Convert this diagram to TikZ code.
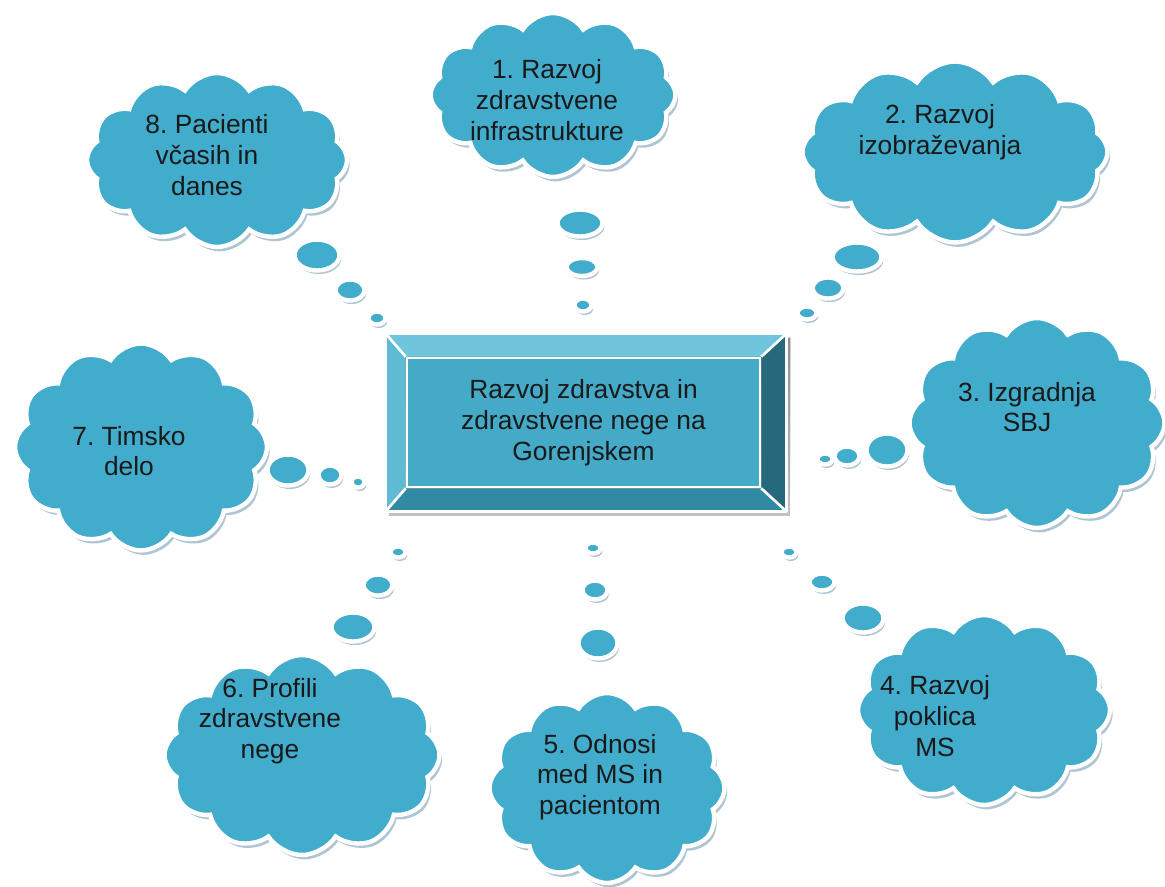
\documentclass[tikz,border=0pt]{standalone}
\usepackage{fontspec}
\setmainfont{Liberation Sans}
\usetikzlibrary{shapes.symbols,shapes.geometric,shadows,calc}
\frenchspacing

\definecolor{cloudblue}{RGB}{66,172,204}
\definecolor{boxblue}{RGB}{68,170,200}
\definecolor{bevlight}{RGB}{112,196,220}
\definecolor{bevleft}{RGB}{96,186,212}
\definecolor{bevdark}{RGB}{38,104,124}
\definecolor{bevbottom}{RGB}{48,138,164}
\definecolor{shade}{RGB}{110,150,175}
\definecolor{ink}{RGB}{25,25,25}

\tikzset{
  cloudbox/.style={cloud, cloud puffs=12, cloud puff arc=115, cloud ignores aspect,
    fill=cloudblue, draw=white, line width=2.5pt, inner sep=0pt,
    drop shadow={shadow xshift=1.5pt, shadow yshift=-2.5pt, fill=shade, opacity=0.55}},
  cloudtext/.style={align=center, text=ink, font=\fontsize{15}{17.5}\selectfont, inner sep=0pt},
  bubble/.style={ellipse, fill=cloudblue, draw=white, line width=2.5pt, inner sep=0pt,
    drop shadow={shadow xshift=1pt, shadow yshift=-2pt, fill=shade, opacity=0.55}},
  hubbox/.style={rectangle, fill=boxblue, draw=white, line width=1.5pt,
    minimum width=7.06cm, minimum height=2.58cm, align=center, text=ink,
    font=\fontsize{15}{17.5}\selectfont}
}

\begin{document}
\begin{tikzpicture}[x=0.02cm, y=-0.02cm]
\fill[white] (0,0) rectangle (1165,886);
\useasboundingbox (0,0) rectangle (1165,886);

% central box with bevel
\node[hubbox] (hub) at (583.5,422.5) {Razvoj zdravstva in\\zdravstvene nege na\\Gorenjskem};
\coordinate (oNW) at ($(hub.north west)+(-20,-23)$);
\coordinate (oNE) at ($(hub.north east)+(25,-23)$);
\coordinate (oSE) at ($(hub.south east)+(25,23)$);
\coordinate (oSW) at ($(hub.south west)+(-20,23)$);
\fill[shade, opacity=0.4] ($(oNW)+(3,4)$) rectangle ($(oSE)+(4,5)$);
\fill[bevlight] (oNW) -- (oNE) -- (hub.north east) -- (hub.north west) -- cycle;
\fill[bevdark] (oNE) -- (oSE) -- (hub.south east) -- (hub.north east) -- cycle;
\fill[bevbottom] (oSE) -- (oSW) -- (hub.south west) -- (hub.south east) -- cycle;
\fill[bevleft] (oSW) -- (oNW) -- (hub.north west) -- (hub.south west) -- cycle;
\draw[white, line width=2pt, line join=round] (oNW) -- (oNE) -- (oSE) -- (oSW) -- cycle;
\draw[white, line width=1.5pt] (oNW) -- (hub.north west) (oNE) -- (hub.north east)
  (oSE) -- (hub.south east) (oSW) -- (hub.south west);
\node[hubbox] at (hub) {Razvoj zdravstva in\\zdravstvene nege na\\Gorenjskem};

% clouds
\node[cloudbox, minimum width=4.9cm, minimum height=3.28cm] (c1) at (553,95) {};
\node[cloudtext] (t1) at (547,100) {1. Razvoj\\zdravstvene\\infrastrukture};

\node[cloudbox, minimum width=6.1cm, minimum height=3.62cm] (c2) at (955,152) {};
\node[cloudtext] (t2) at (940,132) {2. Razvoj\\izobraževanja};

\node[cloudbox, minimum width=5.1cm, minimum height=4.2cm] (c3) at (1037,423) {};
\node[cloudtext] (t3) at (1027,407) {3. Izgradnja\\SBJ};

\node[cloudbox, minimum width=5.04cm, minimum height=3.8cm] (c4) at (984,710) {};
\node[cloudtext] (t4) at (935,716) {4. Razvoj\\poklica\\MS};

\node[cloudbox, minimum width=4.7cm, minimum height=3.8cm] (c5) at (607,788) {};
\node[cloudtext] (t5) at (600,777) {5. Odnosi\\med MS in\\pacientom};

\node[cloudbox, minimum width=5.5cm, minimum height=4cm] (c6) at (302,755) {};
\node[cloudtext] (t6) at (270,721) {6. Profili\\zdravstvene\\nege};

\node[cloudbox, minimum width=5.04cm, minimum height=4.14cm] (c7) at (141,447) {};
\node[cloudtext] (t7) at (129,451) {7. Timsko\\delo};

\node[cloudbox, minimum width=5.2cm, minimum height=3.48cm] (c8) at (217,160) {};
\node[cloudtext] (t8) at (207,155) {8. Pacienti\\včasih in\\danes};

% thought bubbles
\node[bubble, minimum width=0.9cm, minimum height=0.54cm] (b1a) at (580,223) {};
\node[bubble, minimum width=0.62cm, minimum height=0.36cm] (b1b) at (582,267) {};
\node[bubble, minimum width=0.34cm, minimum height=0.26cm] (b1c) at (583,305) {};

\node[bubble, minimum width=0.98cm, minimum height=0.58cm] (b2a) at (857,257) {};
\node[bubble, minimum width=0.62cm, minimum height=0.42cm] (b2b) at (828,288) {};
\node[bubble, minimum width=0.38cm, minimum height=0.26cm] (b2c) at (807,313) {};

\node[bubble, minimum width=0.82cm, minimum height=0.66cm] (b3a) at (887,450) {};
\node[bubble, minimum width=0.5cm, minimum height=0.38cm] (b3b) at (847,456) {};
\node[bubble, minimum width=0.3cm, minimum height=0.22cm] (b3c) at (825,459) {};

\node[bubble, minimum width=0.82cm, minimum height=0.58cm] (b4a) at (863,618) {};
\node[bubble, minimum width=0.5cm, minimum height=0.34cm] (b4b) at (822,582) {};
\node[bubble, minimum width=0.3cm, minimum height=0.22cm] (b4c) at (789,552) {};

\node[bubble, minimum width=0.78cm, minimum height=0.62cm] (b5a) at (598,643) {};
\node[bubble, minimum width=0.5cm, minimum height=0.38cm] (b5b) at (595,590) {};
\node[bubble, minimum width=0.3cm, minimum height=0.22cm] (b5c) at (593,548) {};

\node[bubble, minimum width=0.86cm, minimum height=0.58cm] (b6a) at (353,627) {};
\node[bubble, minimum width=0.58cm, minimum height=0.42cm] (b6b) at (378,585) {};
\node[bubble, minimum width=0.3cm, minimum height=0.22cm] (b6c) at (398,552) {};

\node[bubble, minimum width=0.82cm, minimum height=0.62cm] (b7a) at (288,470) {};
\node[bubble, minimum width=0.46cm, minimum height=0.38cm] (b7b) at (330,475) {};
\node[bubble, minimum width=0.26cm, minimum height=0.22cm] (b7c) at (358,482) {};

\node[bubble, minimum width=0.9cm, minimum height=0.62cm] (b8a) at (317,255) {};
\node[bubble, minimum width=0.58cm, minimum height=0.42cm] (b8b) at (350,290) {};
\node[bubble, minimum width=0.34cm, minimum height=0.26cm] (b8c) at (377,318) {};
\end{tikzpicture}
\end{document}
